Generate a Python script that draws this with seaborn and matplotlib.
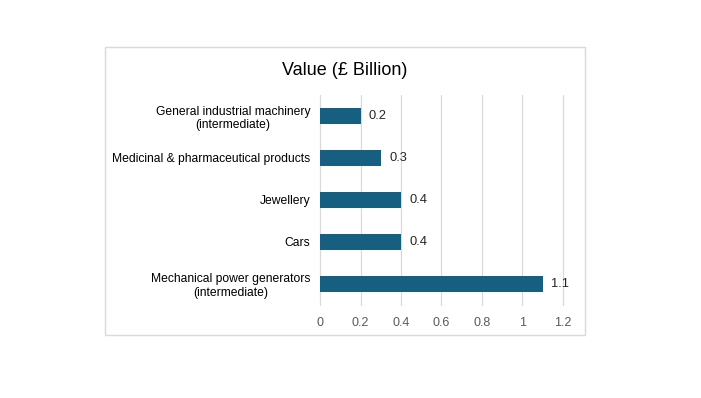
import matplotlib
matplotlib.use("Agg")
import matplotlib.pyplot as plt
import matplotlib.patches as patches
import seaborn as sns
import pandas as pd

# Chart data
categories = [
    "General industrial machinery\n(intermediate)",
    "Medicinal & pharmaceutical products",
    "Jewellery",
    "Cars",
    "Mechanical power generators\n(intermediate)",
]
values = [0.2, 0.3, 0.4, 0.4, 1.1]
x_ticks = [0, 0.2, 0.4, 0.6, 0.8, 1.0, 1.2]

df = pd.DataFrame({"category": categories, "value": values})

sns.set_theme(style="white")
plt.rcParams["font.family"] = ["Liberation Sans", "DejaVu Sans"]

fig = plt.figure(figsize=(7.01, 3.98), dpi=100)
fig.patch.set_facecolor("white")

# chart border
fig.patches.append(patches.Rectangle((0.1498, 0.1583), 0.6847, 0.7236,
                                     transform=fig.transFigure, fill=False,
                                     edgecolor="#d9d9d9", linewidth=1))

ax = fig.add_axes([0.4565, 0.2337, 0.3466, 0.5276])
sns.barplot(data=df, x="value", y="category", orient="h", color="#175f80",
            saturation=1, width=0.36, linewidth=0, ax=ax)

ax.bar_label(ax.containers[0], labels=[f"{v:g}" for v in values],
             padding=6, fontsize=9.3, color="#262626")

ax.set_xlim(0, 1.2)
ax.set_xticks(x_ticks)
ax.set_xticklabels([f"{t:g}" for t in x_ticks])
ax.grid(axis="x", color="#d9d9d9", linewidth=0.9)
for gl in ax.get_xgridlines():
    gl.set_clip_on(False)
ax.set_axisbelow(True)
for s in ax.spines.values():
    s.set_visible(False)
ax.tick_params(axis="x", length=0, pad=9, labelsize=9, labelcolor="#595959")
ax.tick_params(axis="y", length=0, pad=7, labelsize=8.7, labelcolor="black")
for lbl in ax.get_yticklabels():
    lbl.set_multialignment("center")
ax.set_xlabel("")
ax.set_ylabel("")

fig.text(0.492, 0.823, "Value (£ Billion)", ha="center", va="center",
         fontsize=13, color="black")

fig.savefig("out.png", dpi=100)
